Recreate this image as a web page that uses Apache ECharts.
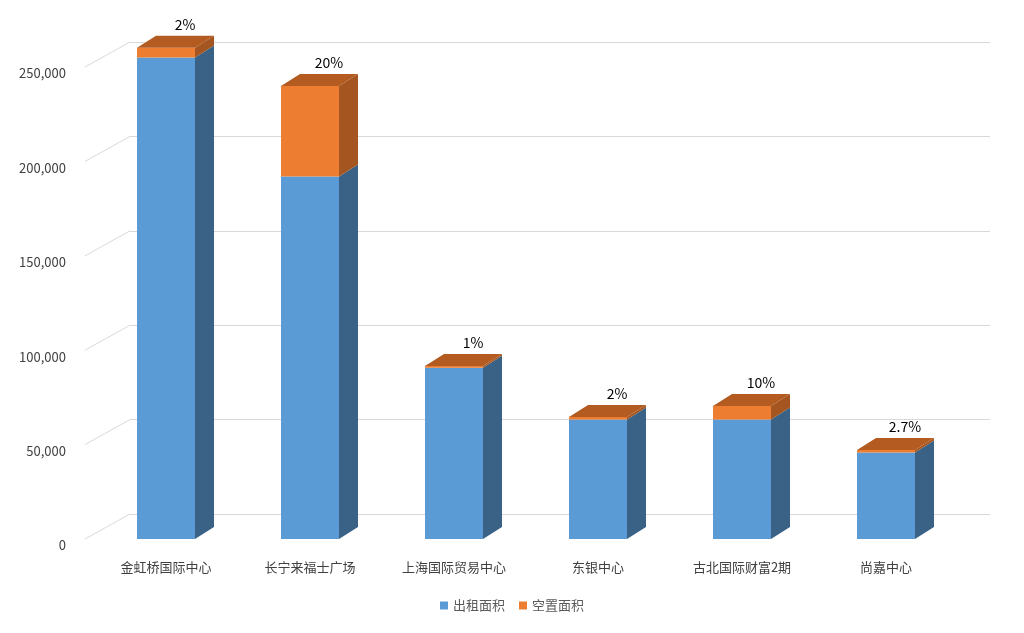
<!DOCTYPE html>
<html><head><meta charset="utf-8">
<script src="https://cdn.jsdelivr.net/npm/echarts@6/dist/echarts.min.js"></script>
<style>html,body{margin:0;padding:0;background:#fff}#c{width:1024px;height:633px}</style>
</head><body><div id="c"></div>
<script>
var categories = ['金虹桥国际中心','长宁来福士广场','上海国际贸易中心','东银中心','古北国际财富2期','尚嘉中心'];
var rented = [255000, 192000, 90700, 63300, 63300, 45800];
var vacant = [5200, 48000, 900, 1300, 7100, 1300];
var rateLabels = ['2%','20%','1%','2%','10%','2.7%'];
var ticks = [0,50000,100000,150000,200000,250000];

var DX = 19, DY = -12, HALF = 29;
var FONT = '"Noto Sans CJK SC","Noto Sans",sans-serif';
var chart = echarts.init(document.getElementById('c'));

function barRender(params, api) {
  var i = api.value(0), r = api.value(1), v = api.value(2);
  var p0 = api.coord([i, 0]), p1 = api.coord([i, r]), p2 = api.coord([i, r + v]);
  var x0 = p0[0] - HALF, x1 = p0[0] + HALF;
  var ch = [];
  // front faces
  ch.push({type:'rect', shape:{x:x0, y:p1[1], width:x1-x0, height:p0[1]-p1[1]}, style:{fill:'#5B9BD5'}});
  ch.push({type:'rect', shape:{x:x0, y:p2[1], width:x1-x0, height:p1[1]-p2[1]}, style:{fill:'#ED7D31'}});
  // side faces
  ch.push({type:'polygon', shape:{points:[[x1,p0[1]],[x1+DX,p0[1]+DY],[x1+DX,p1[1]+DY],[x1,p1[1]]]}, style:{fill:'#3A6286'}});
  ch.push({type:'polygon', shape:{points:[[x1,p1[1]],[x1+DX,p1[1]+DY],[x1+DX,p2[1]+DY],[x1,p2[1]]]}, style:{fill:'#A5551F'}});
  // top
  ch.push({type:'polygon', shape:{points:[[x0,p2[1]],[x1,p2[1]],[x1+DX,p2[1]+DY],[x0+DX,p2[1]+DY]]}, style:{fill:'#B35B20'}});
  ch.push({type:'text', style:{text:rateLabels[i], x:p0[0]+DX, y:p2[1]+DY-4, align:'center', verticalAlign:'bottom', fill:'#000', font:'14px '+FONT}});
  return {type:'group', children:ch};
}
function diagRender(params, api) {
  var t = api.value(0);
  var p = api.coord([0, t]);
  var x = p[0] - 81;
  return {type:'line', shape:{x1:x, y1:p[1], x2:x+45, y2:p[1]-25}, style:{stroke:'#d9d9d9', lineWidth:1}};
}

chart.setOption({
  animation:false,
  grid:[
    {left:94, right:66, top:67, bottom:94},
    {left:130, right:34, top:42, bottom:119}
  ],
  legend:{bottom:16, left:'center', icon:'rect', itemWidth:8, itemHeight:8, itemGap:14,
    textStyle:{fontFamily:FONT, fontSize:13, color:'#595959'},
    data:[{name:'出租面积', itemStyle:{color:'#5B9BD5'}},{name:'空置面积', itemStyle:{color:'#ED7D31'}}]},
  xAxis:[
    {type:'category', gridIndex:0, data:categories, axisLine:{show:false}, axisTick:{show:false},
      axisLabel:{margin:22, fontFamily:FONT, fontSize:13, color:'#404040'}},
    {type:'category', gridIndex:1, data:categories, show:false}
  ],
  yAxis:[
    {type:'value', gridIndex:0, min:0, max:250000, interval:50000, splitLine:{show:false},
      axisLabel:{margin:28, fontFamily:FONT, fontSize:13, color:'#404040', verticalAlign:'top'}},
    {type:'value', gridIndex:1, min:0, max:250000, interval:50000, axisLabel:{show:false},
      splitLine:{lineStyle:{color:'#d9d9d9'}}}
  ],
  series:[
    {type:'custom', name:'diag', xAxisIndex:0, yAxisIndex:0, renderItem:diagRender, clip:false, silent:true,
      data:ticks.map(function(t){return [t];}), encode:{y:0}},
    {type:'custom', name:'出租面积', xAxisIndex:0, yAxisIndex:0, renderItem:barRender, clip:false,
      itemStyle:{color:'#5B9BD5'},
      data:categories.map(function(c,i){return [i, rented[i], vacant[i]];}), encode:{x:0, y:[1,2]}},
    {type:'bar', name:'空置面积', xAxisIndex:0, yAxisIndex:0, data:[], itemStyle:{color:'#ED7D31'}}
  ]
});
</script></body></html>
